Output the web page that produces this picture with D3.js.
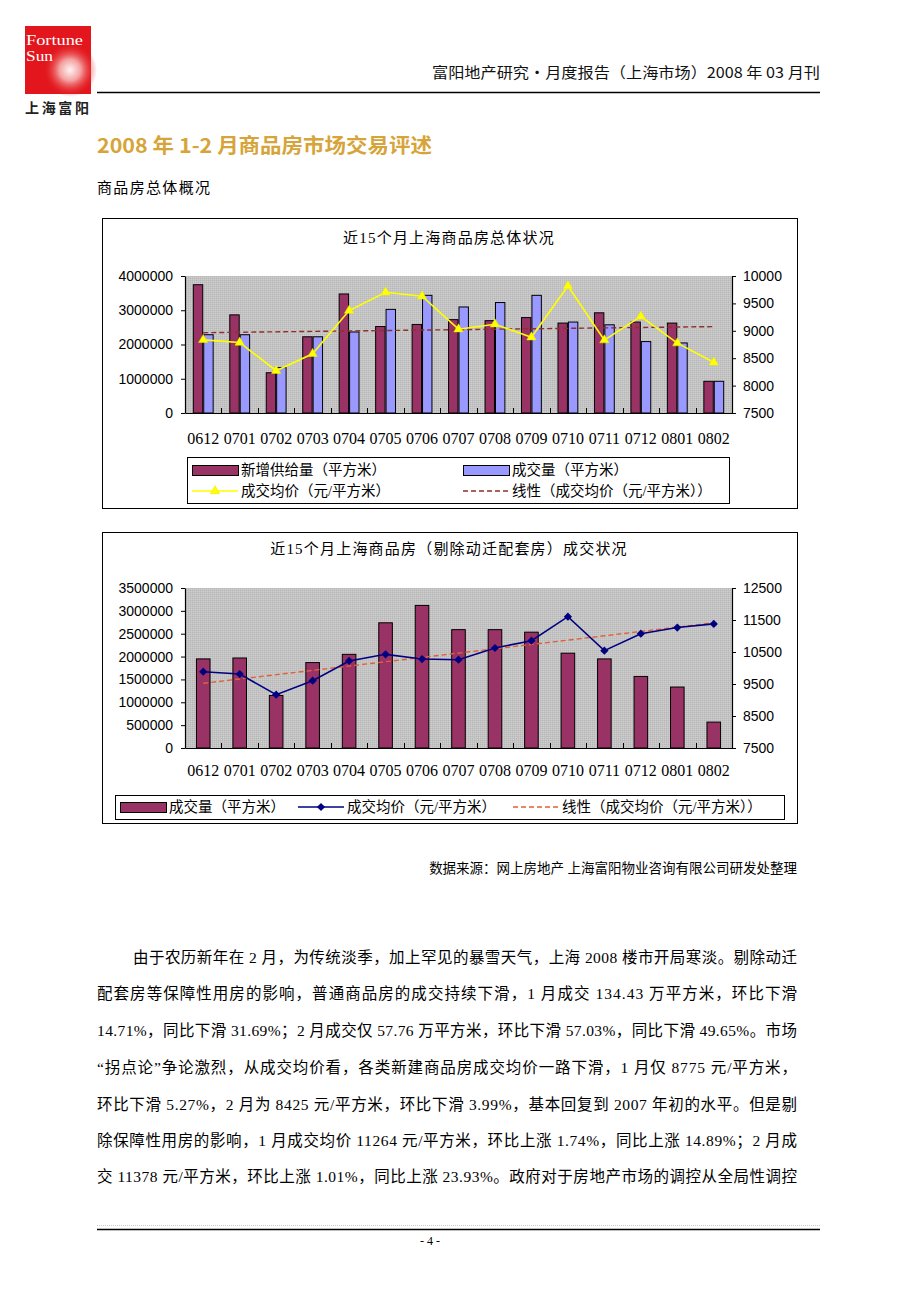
<!DOCTYPE html>
<html><head><meta charset="utf-8">
<script src="https://cdn.jsdelivr.net/npm/d3@7"></script>
<style>body{margin:0;background:#fff}svg{display:block}</style>
</head><body><svg id="c" width="920" height="1302"></svg>
<script>
// ---------------- DATA ----------------
const categories = ["0612","0701","0702","0703","0704","0705","0706","0707","0708","0709","0710","0711","0712","0801","0802"];
// Chart 1: 近15个月上海商品房总体状况
const supplyArea1 = [3760000,2880000,1190000,2240000,3490000,2540000,2600000,2740000,2710000,2800000,2640000,2940000,2670000,2640000,940000];
const dealArea1   = [2300000,2300000,1340000,2240000,2380000,3040000,3450000,3110000,3240000,3450000,2670000,2590000,2100000,2060000,940000];
const avgPrice1   = [8835,8786,8271,8580,9369,9703,9630,9029,9120,8883,9818,8829,9263,8775,8425];
const leftTicks1  = [0,1000000,2000000,3000000,4000000];
const rightTicks1 = [7500,8000,8500,9000,9500,10000];
// Chart 2: 近15个月上海商品房（剔除动迁配套房）成交状况
const dealArea2   = [1960000,1980000,1160000,1880000,2060000,2750000,3130000,2600000,2600000,2545000,2085000,1960000,1576200,1344300,577600];
const avgPrice2   = [9885,9812,9167,9604,10219,10427,10281,10260,10625,10854,11604,10542,11071,11264,11378];
const leftTicks2  = [0,500000,1000000,1500000,2000000,2500000,3000000,3500000];
const rightTicks2 = [7500,8500,9500,10500,11500,12500];

const paragraphLines = [
  "由于农历新年在 2 月，为传统淡季，加上罕见的暴雪天气，上海 2008 楼市开局寒淡。剔除动迁",
  "配套房等保障性用房的影响，普通商品房的成交持续下滑，1 月成交 134.43 万平方米，环比下滑",
  "14.71%，同比下滑 31.69%；2 月成交仅 57.76 万平方米，环比下滑 57.03%，同比下滑 49.65%。市场",
  "“拐点论”争论激烈，从成交均价看，各类新建商品房成交均价一路下滑，1 月仅 8775 元/平方米，",
  "环比下滑 5.27%，2 月为 8425 元/平方米，环比下滑 3.99%，基本回复到 2007 年初的水平。但是剔",
  "除保障性用房的影响，1 月成交均价 11264 元/平方米，环比上涨 1.74%，同比上涨 14.89%；2 月成",
  "交 11378 元/平方米，环比上涨 1.01%，同比上涨 23.93%。政府对于房地产市场的调控从全局性调控"
];

// ---------------- PAGE ----------------
const SERIF = "'Liberation Serif','Noto Sans CJK SC',serif";
const SANS = "'Liberation Sans',Arial,sans-serif";
const CJK = "'Noto Sans CJK SC',sans-serif";
const svg = d3.select("#c");
svg.append("rect").attr("width",920).attr("height",1302).attr("fill","#fff");
const defs = svg.append("defs");
const pat = defs.append("pattern").attr("id","dither").attr("width",2).attr("height",2).attr("patternUnits","userSpaceOnUse");
pat.append("rect").attr("width",2).attr("height",2).attr("fill","#c3c3c3");
pat.append("rect").attr("width",1).attr("height",1).attr("fill","#b8b8b8");
pat.append("rect").attr("x",1).attr("y",1).attr("width",1).attr("height",1).attr("fill","#cecece");
const rg = defs.append("radialGradient").attr("id","glow").attr("cx","0.5").attr("cy","0.5").attr("r","0.5");
rg.append("stop").attr("offset","0").attr("stop-color","#fff4f4");
rg.append("stop").attr("offset","0.4").attr("stop-color","#f4a0a0");
rg.append("stop").attr("offset","1").attr("stop-color","#e2161c").attr("stop-opacity",0);

// logo
svg.append("rect").attr("x",25).attr("y",26).attr("width",66).attr("height",68).attr("fill","#e2161c");
svg.append("circle").attr("cx",70).attr("cy",70).attr("r",27).attr("fill","url(#glow)");
svg.append("text").attr("x",26).attr("y",45).attr("font-family",SERIF).attr("font-size",15).attr("fill","#fff")
  .attr("textLength",57).attr("lengthAdjust","spacingAndGlyphs").text("Fortune");
svg.append("text").attr("x",26).attr("y",61).attr("font-family",SERIF).attr("font-size",15).attr("fill","#fff")
  .attr("textLength",27).attr("lengthAdjust","spacingAndGlyphs").text("Sun");
svg.append("text").attr("x",25).attr("y",113).attr("font-family",CJK).attr("font-weight","bold").attr("font-size",14).attr("fill","#222").attr("textLength",64).attr("lengthAdjust","spacing").text("上海富阳");

// header
svg.append("text").attr("x",432).attr("y",78).attr("font-family",CJK).attr("font-size",15).attr("fill","#111")
  .attr("textLength",388).attr("lengthAdjust","spacingAndGlyphs").text("富阳地产研究·月度报告（上海市场）2008 年 03 月刊");
svg.append("line").attr("x1",97).attr("x2",820).attr("y1",92.5).attr("y2",92.5).attr("stroke","#000").attr("stroke-width",1.5);

svg.append("text").attr("x",97).attr("y",153).attr("font-family",CJK).attr("font-weight","bold").attr("font-size",20)
  .attr("fill","#d6a439").attr("textLength",335).attr("lengthAdjust","spacingAndGlyphs").text("2008 年 1-2 月商品房市场交易评述");
svg.append("text").attr("x",97).attr("y",193).attr("font-family",CJK).attr("font-size",15).attr("fill","#000")
  .attr("textLength",113).text("商品房总体概况");

// ---------------- CHARTS ----------------
function fitEnds(vals){
  const idx = d3.range(vals.length);
  const xm = d3.mean(idx), ym = d3.mean(vals);
  const slope = d3.sum(idx, i => (i-xm)*(vals[i]-ym)) / d3.sum(idx, i => (i-xm)*(i-xm));
  return idx.map(i => ym + slope*(i-xm));
}

function marker(sel, type, color){
  if(type==="tri"){
    sel.append("path").attr("d", d3.symbol(d3.symbolTriangle).size(38)()).attr("fill",color).attr("stroke","#e8e800").attr("stroke-width",0.5);
  } else {
    sel.append("path").attr("d", d3.symbol(d3.symbolSquare).size(34)()).attr("transform","rotate(45)").attr("fill",color);
  }
}

function drawChart(o){
  const g = svg.append("g");
  g.append("rect").attr("x",o.box[0]+0.5).attr("y",o.box[1]+0.5).attr("width",o.box[2]).attr("height",o.box[3])
    .attr("fill","#fff").attr("stroke","#000").attr("stroke-width",1);
  g.append("text").attr("x",449).attr("y",o.titleY).attr("text-anchor","middle").attr("font-family",SERIF)
    .attr("font-size",15).attr("letter-spacing",1.2).attr("fill","#000").text(o.title);

  const [px0,px1,py0,py1] = o.plot;
  const x = d3.scaleBand().domain(categories).range([px0,px1]);
  const yL = d3.scaleLinear().domain(o.leftDomain).range([py1,py0]);
  const yR = d3.scaleLinear().domain(o.rightDomain).range([py1,py0]);
  const bw = x.bandwidth();

  g.append("rect").attr("x",px0).attr("y",py0).attr("width",px1-px0).attr("height",py1-py0).attr("fill","url(#dither)");

  const nb = o.bars.length;
  const gap = bw*1.5/(nb+1.5);
  const xs = d3.scaleBand().domain(d3.range(nb)).range([gap/2, bw-gap/2]);
  o.bars.forEach((b,k)=>{
    g.append("g").selectAll("rect").data(b.values).join("rect")
      .attr("x",(d,i)=>x(categories[i])+xs(k)+0.5)
      .attr("y",d=>yL(d)+0.5)
      .attr("width",xs.bandwidth()-1)
      .attr("height",d=>yL(0)-yL(d)-0.5)
      .attr("fill",b.color).attr("stroke","#000").attr("stroke-width",1);
  });

  // axes
  const ax = g.append("g").attr("transform",`translate(${px0},0)`)
    .call(d3.axisLeft(yL).tickValues(o.leftTicks).tickSize(4).tickSizeOuter(0).tickPadding(8).tickFormat(d3.format("d")));
  const ar = g.append("g").attr("transform",`translate(${px1},0)`)
    .call(d3.axisRight(yR).tickValues(o.rightTicks).tickSize(4).tickSizeOuter(0).tickPadding(7).tickFormat(d3.format("d")));
  const ab = g.append("g").attr("transform",`translate(0,${py1})`)
    .call(d3.axisBottom(x).tickSize(0).tickSizeOuter(0).tickPadding(o.labelPad));
  [ax,ar].forEach(a=>{
    a.selectAll("text").attr("font-family",SANS).attr("font-size",14).attr("fill","#000");
  });
  ab.selectAll("text").attr("font-family",SERIF).attr("font-size",16).attr("fill","#000");
  [ax,ar,ab].forEach(a=>{
    a.select(".domain").attr("stroke","#000").attr("stroke-width",1.2);
    a.selectAll(".tick line").attr("stroke","#000");
  });
  // category boundary ticks
  g.append("g").selectAll("line").data(categories.slice(1)).join("line")
    .attr("x1",c=>Math.round(x(c))+0.5).attr("x2",c=>Math.round(x(c))+0.5)
    .attr("y1",py1).attr("y2",py1-5).attr("stroke","#000");

  // trend line
  const fit = fitEnds(o.line.values);
  g.append("line")
    .attr("x1",x(categories[0])+bw/2).attr("y1",yR(fit[0]))
    .attr("x2",x(categories[categories.length-1])+bw/2).attr("y2",yR(fit[fit.length-1]))
    .attr("stroke",o.trendColor).attr("stroke-width",1.4).attr("stroke-dasharray","5,3");

  // price line
  const line = d3.line().x((d,i)=>x(categories[i])+bw/2).y(d=>yR(d));
  g.append("path").datum(o.line.values).attr("d",line).attr("fill","none")
    .attr("stroke",o.line.color).attr("stroke-width",1.6);
  g.append("g").selectAll("g").data(o.line.values).join("g")
    .attr("transform",(d,i)=>`translate(${x(categories[i])+bw/2},${yR(d)})`)
    .each(function(){ marker(d3.select(this), o.line.marker, o.line.color); });

  // legend
  const lb = o.legendBox;
  g.append("rect").attr("x",lb[0]+0.5).attr("y",lb[1]+0.5).attr("width",lb[2]).attr("height",lb[3])
    .attr("fill","#fff").attr("stroke","#000").attr("stroke-width",1);
  o.legend.forEach(it=>{
    if(it.type==="rect"){
      g.append("rect").attr("x",it.x+0.5).attr("y",it.y-5+0.5).attr("width",46).attr("height",10)
        .attr("fill",it.color).attr("stroke","#000");
    } else if(it.type==="line"){
      g.append("line").attr("x1",it.x).attr("x2",it.x+46).attr("y1",it.y).attr("y2",it.y)
        .attr("stroke",it.color).attr("stroke-width",1.6);
      const m = g.append("g").attr("transform",`translate(${it.x+23},${it.y})`);
      marker(m, it.marker, it.color);
    } else {
      g.append("line").attr("x1",it.x).attr("x2",it.x+46).attr("y1",it.y).attr("y2",it.y)
        .attr("stroke",it.color).attr("stroke-width",1.4).attr("stroke-dasharray","5,3");
    }
    g.append("text").attr("x",it.x+49).attr("y",it.y+5).attr("font-family",SERIF).attr("font-size",14.5)
      .attr("fill","#000").text(it.label);
  });
}

drawChart({
  box:[102,218,695,290], title:"近15个月上海商品房总体状况", titleY:243,
  plot:[185,732,276,413], leftDomain:[0,4000000], rightDomain:[7500,10000],
  leftTicks:leftTicks1, rightTicks:rightTicks1, labelPad:20,
  bars:[{values:supplyArea1,color:"#993366"},{values:dealArea1,color:"#9999ff"}],
  line:{values:avgPrice1,color:"#ffff00",marker:"tri"}, trendColor:"#8e2f2a",
  legendBox:[187,457,542,46],
  legend:[
    {type:"rect",x:192,y:470,color:"#993366",label:"新增供给量（平方米）"},
    {type:"rect",x:463,y:470,color:"#9999ff",label:"成交量（平方米）"},
    {type:"line",x:192,y:491,color:"#ffff00",marker:"tri",label:"成交均价（元/平方米）"},
    {type:"dash",x:463,y:491,color:"#8e2f2a",label:"线性（成交均价（元/平方米））"}
  ]
});

drawChart({
  box:[102,532,695,291], title:"近15个月上海商品房（剔除动迁配套房）成交状况", titleY:554,
  plot:[185,732,588,748], leftDomain:[0,3500000], rightDomain:[7500,12500],
  leftTicks:leftTicks2, rightTicks:rightTicks2, labelPad:17,
  bars:[{values:dealArea2,color:"#993366"}],
  line:{values:avgPrice2,color:"#000080",marker:"dia"}, trendColor:"#e0603a",
  legendBox:[115,795,669,24],
  legend:[
    {type:"rect",x:120,y:807,color:"#993366",label:"成交量（平方米）"},
    {type:"line",x:298,y:807,color:"#000080",marker:"dia",label:"成交均价（元/平方米）"},
    {type:"dash",x:513,y:807,color:"#e0603a",label:"线性（成交均价（元/平方米））"}
  ]
});

// source
svg.append("text").attr("x",797).attr("y",873).attr("text-anchor","end").attr("font-family",SERIF)
  .attr("font-size",13.5).attr("fill","#000").text("数据来源：网上房地产 上海富阳物业咨询有限公司研发处整理");

// paragraph
const paraY = [963,999,1036,1073,1110,1146,1182];
svg.append("g").selectAll("text").data(paragraphLines).join("text")
  .attr("x",(d,i)=>i===0?133:97).attr("y",(d,i)=>paraY[i])
  .attr("font-family",SERIF).attr("font-size",15.5).attr("fill","#000")
  .attr("textLength",(d,i)=>i===0?664:700).attr("lengthAdjust","spacing")
  .text(d=>d);

// footer
svg.append("line").attr("x1",97).attr("x2",820).attr("y1",1225.5).attr("y2",1225.5).attr("stroke","#ccc").attr("stroke-dasharray","1,1");
svg.append("line").attr("x1",97).attr("x2",820).attr("y1",1229.5).attr("y2",1229.5).attr("stroke","#000").attr("stroke-width",1.3);
svg.append("text").attr("x",430).attr("y",1245).attr("text-anchor","middle").attr("font-family",SERIF)
  .attr("font-size",12).attr("fill","#000").text("- 4 -");
</script></body></html>
